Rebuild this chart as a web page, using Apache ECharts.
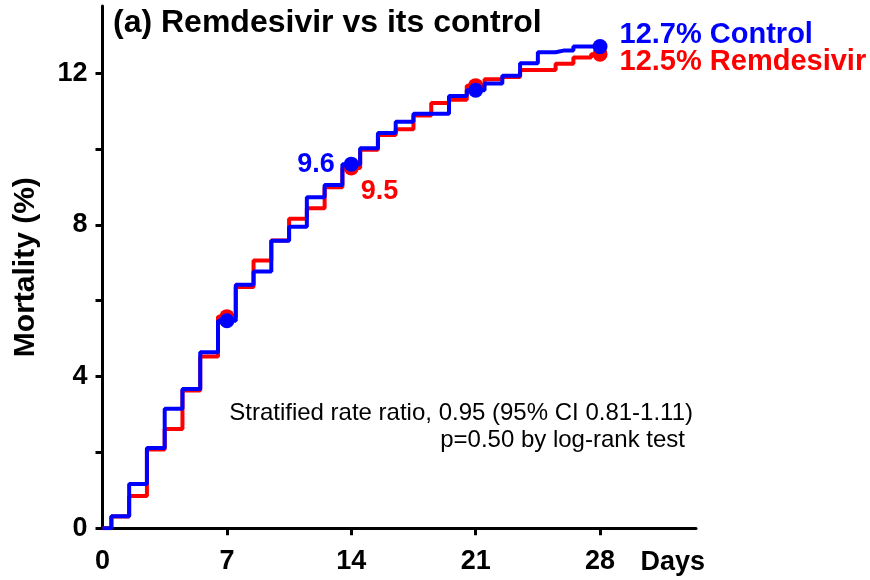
<!DOCTYPE html>
<html>
<head>
<meta charset="utf-8">
<script src="https://cdn.jsdelivr.net/npm/echarts@6/dist/echarts.min.js"></script>
<style>
html,body{margin:0;padding:0;background:#fff;}
#chart{width:870px;height:580px;}
</style>
</head>
<body>
<div id="chart"></div>
<script>
// ---- data ----
const days = [0,1,2,3,4,5,6,7,8,9,10,11,12,13,14,15,16,17,18,19,20,21,22,23,24,25,26,27,28];
const remdesivir = [0,0.31,0.85,2.08,2.62,3.63,4.53,5.58,6.36,7.06,7.59,8.16,8.44,8.99,9.5,9.98,10.37,10.52,10.88,11.21,11.30,11.67,11.84,11.90,12.08,12.08,12.25,12.41,12.5];
const control    = [0,0.32,1.17,2.12,3.15,3.67,4.64,5.47,6.42,6.77,7.58,7.95,8.73,9.05,9.6,10.02,10.42,10.72,10.93,10.93,11.40,11.55,11.73,11.93,12.26,12.55,12.60,12.70,12.7];
const markerDays = [7,14,21,28];
const remLabels  = ['', '9.5', '', '12.5% Remdesivir'];
const ctrlLabels = ['', '9.6', '', '12.7% Control'];
const xTicks = [7,14,21,28];
const xLabels = [0,7,14,21,28];
const yTicks = [0,2,4,6,8,10,12];
const yLabels = [0,4,8,12];
const titleText = '(a) Remdesivir vs its control';
const noteLine1 = 'Stratified rate ratio, 0.95 (95% CI 0.81-1.11)';
const noteLine2 = 'p=0.50 by log-rank test';

const FONT = 'Liberation Sans, Arial, sans-serif';
const RED = '#ff0000', BLUE = '#0000ff';

function markerData(values, labels, color, posFor) {
  return markerDays.map((d, i) => {
    const item = { value: [d, values[d]] };
    if (labels[i]) {
      item.label = Object.assign({
        show: true, formatter: labels[i], color: color,
        fontFamily: FONT, fontWeight: 'bold'
      }, posFor(i));
    }
    return item;
  });
}

const remMarkers = markerData(remdesivir, remLabels, RED, i => i === 1
  ? { position: 'right', distance: 4, offset: [-2, 24], fontSize: 27 }
  : { position: 'right', distance: 12, offset: [0, 8], fontSize: 29 });
const ctrlMarkers = markerData(control, ctrlLabels, BLUE, i => i === 1
  ? { position: 'left', distance: 9, offset: [0, 0], fontSize: 27 }
  : { position: 'right', distance: 12, offset: [0, -12], fontSize: 29 });

const chart = echarts.init(document.getElementById('chart'), null, { renderer: 'canvas' });
chart.setOption({
  animation: false,
  backgroundColor: '#ffffff',
  title: {
    text: titleText, left: 108, top: 2,
    textStyle: { fontFamily: FONT, fontSize: 32, fontWeight: 'bold', color: '#000' }
  },
  grid: { left: 102.5, right: 174, top: 6, bottom: 51.7, containLabel: false },
  xAxis: {
    type: 'value', min: 0, max: 33.4,
    axisLine: { lineStyle: { color: '#000', width: 3 } },
    axisTick: { show: true, length: 7, lineStyle: { color: '#000', width: 3 }, customValues: xTicks },
    axisLabel: { customValues: xLabels, fontFamily: FONT, fontSize: 27, fontWeight: 'bold', color: '#000', margin: 20 },
    splitLine: { show: false }
  },
  yAxis: {
    type: 'value', min: 0, max: 13.77,
    name: 'Mortality (%)', nameLocation: 'middle', nameGap: 62, nameRotate: 90,
    nameTextStyle: { fontFamily: FONT, fontSize: 30, fontWeight: 'bold', color: '#000' },
    axisLine: { show: true, lineStyle: { color: '#000', width: 3 } },
    axisTick: { show: true, length: 7, lineStyle: { color: '#000', width: 3 }, customValues: yTicks },
    axisLabel: { customValues: yLabels, fontFamily: FONT, fontSize: 27, fontWeight: 'bold', color: '#000', margin: 15 },
    splitLine: { show: false }
  },
  graphic: [
    { type: 'text', x: 693, y: 413, style: { text: noteLine1, fontFamily: FONT, fontSize: 24, fill: '#000', textAlign: 'right', textVerticalAlign: 'middle' } },
    { type: 'text', x: 685, y: 440, style: { text: noteLine2, fontFamily: FONT, fontSize: 24, fill: '#000', textAlign: 'right', textVerticalAlign: 'middle' } },
    { type: 'text', x: 705, y: 563, style: { text: 'Days', fontFamily: FONT, fontSize: 27, fontWeight: 'bold', fill: '#000', textAlign: 'right', textVerticalAlign: 'middle' } }
  ],
  series: [
    { type: 'line', step: 'middle', data: days.map((d, i) => [d, remdesivir[i]]), showSymbol: false,
      lineStyle: { color: RED, width: 4 }, itemStyle: { color: RED }, z: 2 },
    { type: 'scatter', data: remMarkers, symbolSize: 15, itemStyle: { color: RED, opacity: 1 }, z: 3 },
    { type: 'line', step: 'middle', data: days.map((d, i) => [d, control[i]]), showSymbol: false,
      lineStyle: { color: BLUE, width: 4 }, itemStyle: { color: BLUE }, z: 4 },
    { type: 'scatter', data: ctrlMarkers, symbolSize: 15, itemStyle: { color: BLUE, opacity: 1 }, z: 5 }
  ]
});
</script>
</body>
</html>
